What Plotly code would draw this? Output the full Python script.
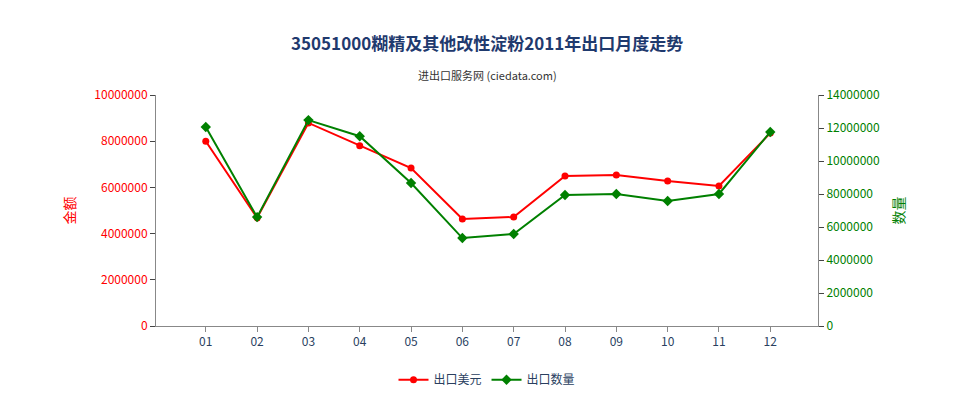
import plotly.graph_objects as go

months = ["01", "02", "03", "04", "05", "06", "07", "08", "09", "10", "11", "12"]
usd = [8000000, 4680000, 8790000, 7800000, 6840000, 4630000, 4720000, 6490000, 6540000, 6280000, 6060000, 8350000]
qty = [12060000, 6600000, 12480000, 11500000, 8670000, 5330000, 5580000, 7940000, 8000000, 7580000, 8000000, 11760000]

xs = list(range(len(months)))

fig = go.Figure()
fig.add_trace(go.Scatter(x=xs, y=usd, name="出口美元", mode="lines+markers",
                         line=dict(color="#ff0000", width=2), marker=dict(size=7, symbol="circle")))
fig.add_trace(go.Scatter(x=xs, y=qty, name="出口数量", mode="lines+markers", yaxis="y2",
                         line=dict(color="#008000", width=2), marker=dict(size=8, symbol="diamond")))

fig.update_layout(
    width=960, height=400,
    margin=dict(l=148, r=150, t=87, b=82),
    plot_bgcolor="white", paper_bgcolor="white",
    font=dict(family="Noto Sans CJK SC", size=12),
    annotations=[
        dict(text="<b>35051000糊精及其他改性淀粉2011年出口月度走势</b>", xref="paper", yref="paper",
             x=0.5, y=(400 - 87 + 64) / 231 - (400 - 87 - 318 + 87) / 231, showarrow=False,
             font=dict(size=17, color="#1f3a6e")),
        dict(text="进出口服务网 (ciedata.com)", xref="paper", yref="paper", x=0.5, y=1.13,
             showarrow=False, font=dict(size=11, color="#333")),
    ],
    xaxis=dict(range=[-0.97, 11.93], tickvals=xs, ticktext=months, showgrid=False, automargin=False,
               showline=True, linecolor="#888", ticks="outside", tickcolor="#888", zeroline=False),
    yaxis=dict(range=[0, 10000000], tickvals=[0, 2000000, 4000000, 6000000, 8000000, 10000000],
               tickformat="d", showgrid=False, showline=True, linecolor="#888", ticks="outside",
               automargin=False, tickfont=dict(color="#ff0000"),
               title=dict(text="金额", font=dict(color="#ff0000")), zeroline=False),
    yaxis2=dict(range=[0, 14000000], tickvals=[i * 2000000 for i in range(8)], tickformat="d",
                overlaying="y", side="right", showgrid=False, showline=True, linecolor="#888",
                ticks="outside", automargin=False, tickfont=dict(color="#008000"),
                title=dict(text="数量", font=dict(color="#008000")), zeroline=False),
    legend=dict(orientation="h", x=0.5, xanchor="center", y=-0.17, yanchor="top"),
)
fig.layout.annotations[0].y = 1.29

fig.write_html("out.html")
